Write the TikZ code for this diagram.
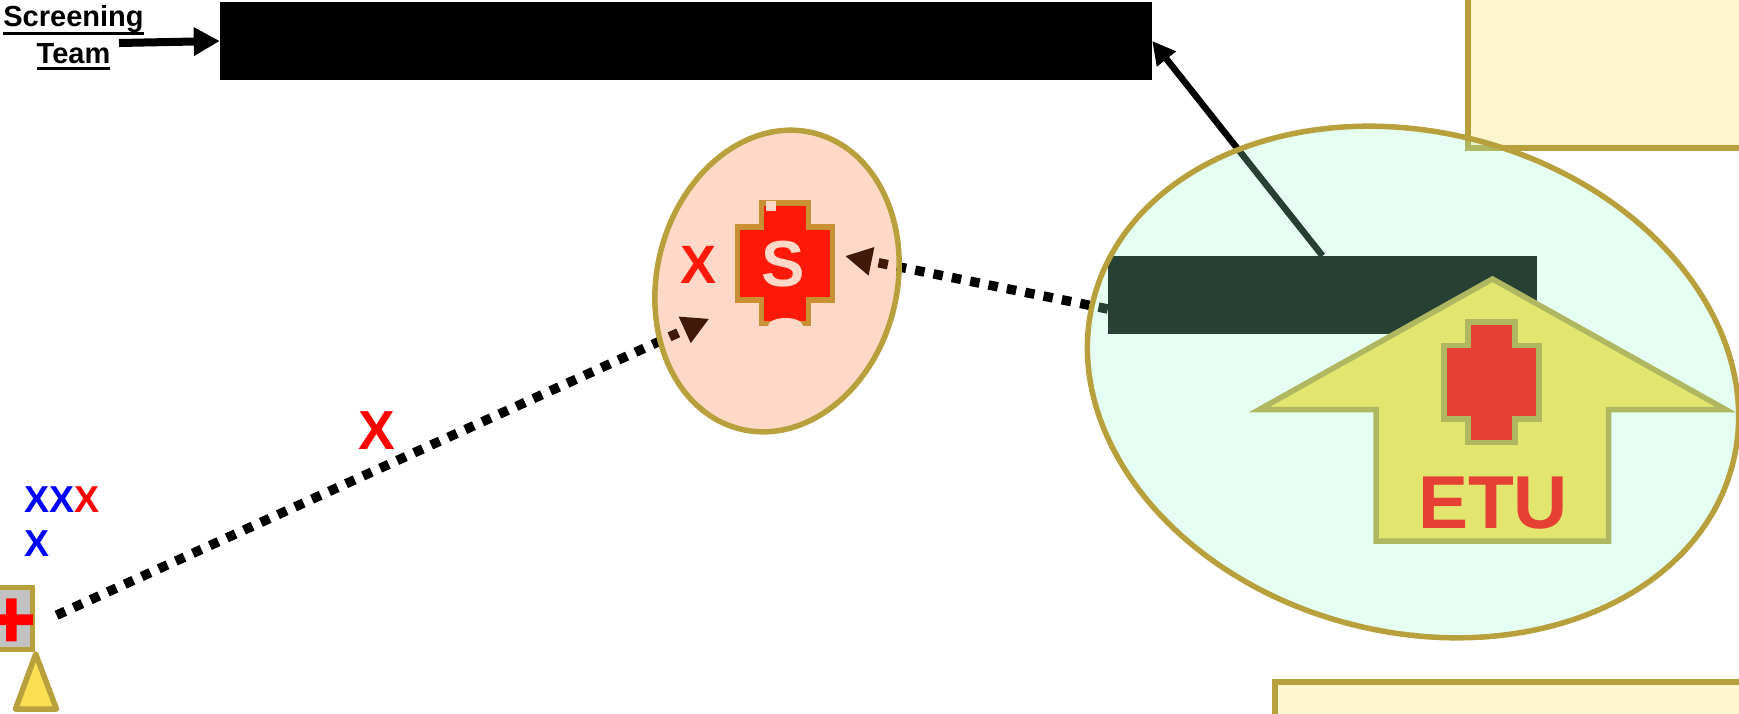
\documentclass[tikz,border=0pt]{standalone}
\usepackage{fontspec}
\setmainfont{Liberation Sans}
\usetikzlibrary{arrows.meta,shapes.geometric}
\newcommand{\ultext}[2]{\setbox0=\hbox{#2}\rlap{\copy0}\raisebox{#1}{\rule{\wd0}{2.5pt}}}
\definecolor{gold}{RGB}{184,160,60}
\definecolor{paleyellow}{RGB}{255,245,207}
\definecolor{tentyellow}{RGB}{251,222,81}
\definecolor{salmon}{RGB}{255,100,32}
\definecolor{mint}{RGB}{152,255,204}
\tikzset{
  goldline/.style={draw=gold,line width=5.5pt},
  bigtext/.style={font=\bfseries\fontsize{#1}{#1}\selectfont,inner sep=0pt,anchor=base},
  bar/.style={fill=black,inner sep=0pt},
  dotline/.style={line width=9.5pt,dash pattern=on 9.5pt off 9.2pt,-{Triangle[length=27pt,width=27pt]}},
  zone/.style={ellipse,inner sep=0pt,goldline,fill opacity=.25}
}
\begin{document}
\begin{tikzpicture}[x=1pt,y=-1pt]
  \useasboundingbox (0,0) rectangle (1739,713);
  \clip (0,0) rectangle (1739,713);
  \coordinate(t) at (119,43);
  \coordinate(s1) at (709.3,318.7);
  \coordinate(s2) at (845,256);
  \coordinate(p) at (56.6,615.2);
  % riquadri gialli
  \draw[goldline,fill=paleyellow] (1468,-20) rectangle (1770,148);
  \draw[goldline,fill=paleyellow] (1275,682) rectangle (1770,740);
  % barre nere
  \node[bar,minimum width=932pt,minimum height=78pt] (screen) at (686,41) {};
  \node[bar,minimum width=429pt,minimum height=78pt] (unit) at (1322.5,295) {};
  % testo in alto a sinistra
  \node[bigtext=29] (scrlabel) at (73.5,26) {\ultext{-8.5pt}{Screening}};
  \node[bigtext=29] (teamlabel) at (73.5,63) {\ultext{-6.5pt}{Team}};
  \draw[line width=8pt,-{Triangle[length=26pt,width=27pt]}] (t) -- (screen.west);
  \draw[line width=6.5pt,-{Triangle[length=23pt,width=23pt]}] (unit.north) -- (screen.east);
  % linee a tratti
  \draw[dotline] (p) -- (s1);
  \draw[dotline] ([yshift=-14pt]unit.west) -- (s2);
  % postazione in basso a sinistra
  \draw[goldline,fill=lightgray!95!white] (-30,587.5) rectangle (32.5,649.5);
  \fill[red] (-10,614.3) -- (6,614.3) -- (6,598.3) -- (16.7,598.3) -- (16.7,614.3) -- (33,614.3) -- (33,625) -- (16.7,625) -- (16.7,641.3) -- (6,641.3) -- (6,625) -- (-10,625) -- cycle;
  \draw[goldline,fill=tentyellow,line join=round] (35.7,654) -- (56.5,709) -- (15.5,709) -- cycle;
  \node[bigtext=37.5,anchor=base west] (xrow) at (24,512.7) {\textcolor{blue}{XX}\textcolor{red}{X}};
  \node[bigtext=37.5,anchor=base west,text=blue] (xsingle) at (24,556.7) {X};
  \node[bigtext=55,text=red] (xmid) at (377,449) {X};
  % croce S
  \draw[goldline,fill=red] (761.5,203) -- (808.5,203) -- (808.5,227) -- (832.5,227) -- (832.5,300) -- (808.5,300) -- (808.5,323.5) -- (761.5,323.5) -- (761.5,300) -- (737.5,300) -- (737.5,227) -- (761.5,227) -- cycle;
  \fill[white] (766,201) rectangle (776,211);
  \fill[white] (768,326) arc (180:360:17.5 and 8) -- cycle;
  \node[bigtext=65,text=white] (sletter) at (782.7,286.7) {S};
  \node[bigtext=54,text=red] (xleft) at (698,283.3) {X};
  % freccia ETU
  \draw[goldline,fill=tentyellow] (1492.5,279) -- (1726,409.7) -- (1608.5,409.7) -- (1608.5,541) -- (1376,541) -- (1376,409.7) -- (1259,409.7) -- cycle;
  \draw[goldline,fill=red] (1468,322) -- (1515,322) -- (1515,345.5) -- (1539,345.5) -- (1539,419) -- (1515,419) -- (1515,442.5) -- (1468,442.5) -- (1468,419) -- (1444,419) -- (1444,345.5) -- (1468,345.5) -- cycle;
  \node[bigtext=75,text=red] (etu) at (1493,528.3) {ETU};
  % ellissi trasparenti
  \node[zone,fill=salmon,minimum width=305pt,minimum height=240pt,rotate=76] (szone) at (777,281) {};
  \node[zone,fill=mint,minimum width=660pt,minimum height=500pt,rotate=-14.5] (etuzone) at (1413,382) {};
\end{tikzpicture}
\end{document}
